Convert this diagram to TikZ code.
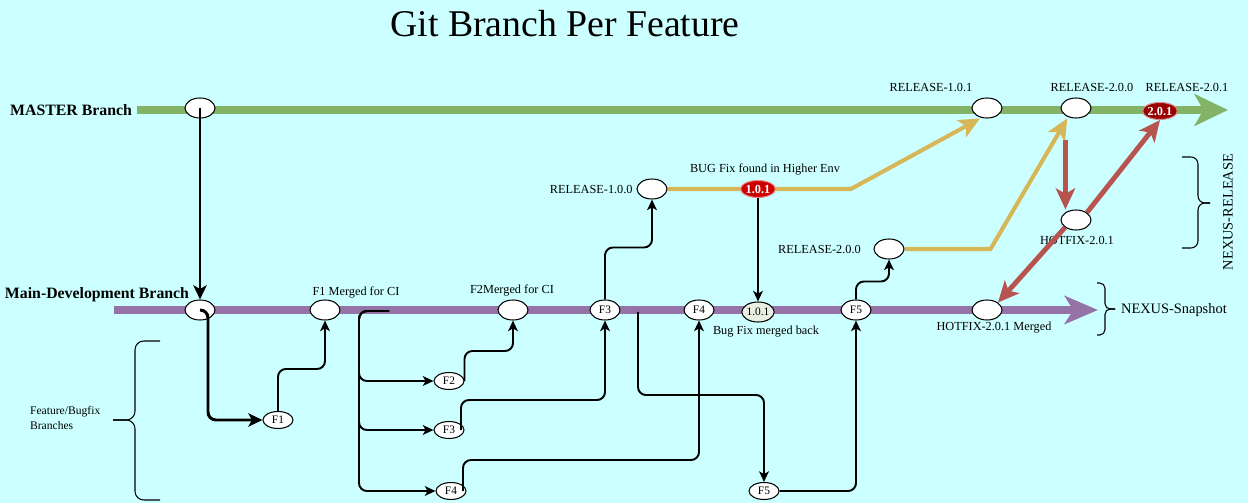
\documentclass[tikz,border=0pt]{standalone}
\usepackage{fontspec}
\setmainfont{Liberation Serif}
\usetikzlibrary{arrows.meta,positioning,shapes.geometric}
\definecolor{bgcyan}{HTML}{CCFFFF}
\definecolor{mastergreen}{HTML}{82B366}
\definecolor{devpurple}{HTML}{9673A6}
\definecolor{relyellow}{HTML}{D6B656}
\definecolor{hotred}{HTML}{B85450}
\definecolor{fixred}{HTML}{CC0000}
\definecolor{tagred}{HTML}{990000}
\definecolor{mergetint}{HTML}{E9F0E2}
\pgfdeclarelayer{back}
\pgfsetlayers{back,main}

\begin{document}
\begin{tikzpicture}[
  x=0.02cm, y=-0.02cm,
  font=\fontsize{7}{8}\selectfont,
  commit/.style={draw, ellipse, line width=0.6pt, fill=white, inner sep=0pt,
                 minimum width=0.6cm, minimum height=0.4cm, font=\fontsize{6.5}{7}\selectfont},
  feat/.style={commit, minimum height=0.34cm},
  fixtag/.style={commit, minimum height=0.34cm, fill=#1, draw=white!55!#1,
                 text=white, font=\fontsize{7}{8}\selectfont\bfseries},
  lbl/.style={inner sep=1pt},
  branch/.style={font=\fontsize{9}{10}\selectfont\bfseries, inner sep=1pt},
  nexus/.style={font=\fontsize{8.2}{9}\selectfont, inner sep=1pt},
  flow/.style={line width=1.1pt, rounded corners=4.5pt,
               -{Stealth[length=6pt,width=5.5pt,inset=1.5pt]}},
  bigflow/.style={line width=1.7pt, rounded corners=4.5pt,
                  -{Stealth[length=8pt,width=7.5pt,inset=2pt]}},
  relline/.style={line width=2.3pt, relyellow,
                  -{Stealth[length=12pt,width=11pt,inset=3pt]}},
  redarr/.style={line width=2.8pt, hotred,
                 -{Stealth[length=12pt,width=11pt,inset=3pt]}},
  curly/.style={line width=0.6pt, rounded corners=#1}
]
\useasboundingbox (0,0) rectangle (1248,503);
\begin{pgfonlayer}{back}
  \fill[bgcyan] (0,0) rectangle (1248,503);
\end{pgfonlayer}

\node (title) at (565,24) {\fontsize{21.5}{24}\selectfont Git Branch Per Feature};

% master branch
\node[commit] (m0) at (200,108) {};
\node[commit] (r101) at (987,108) {};
\node[commit] (r200) at (1076,108) {};
\node[fixtag=tagred] (r201) at (1160,111) {2.0.1};
\node[branch, anchor=east] (mlab) at (134,110) {MASTER Branch};
\node[lbl] (r101lab) at (931,87) {RELEASE-1.0.1};
\node[lbl] (r200lab) at (1092,87) {RELEASE-2.0.0};
\node[lbl] (r201lab) at (1187,87) {RELEASE-2.0.1};

% release branches
\node[commit] (r100) at (652,189) {};
\node[fixtag=fixred] (fix) at (758,189) {1.0.1};
\node[commit] (r200b) at (889,249) {};
\node[commit] (hotfix) at (1076,220) {};
\node[lbl, left=1pt of r100] (r100lab) {RELEASE-1.0.0};
\node[lbl] (fixlab) at (765,169) {BUG Fix found in Higher Env};
\node[lbl, left=6pt of r200b] (r200blab) {RELEASE-2.0.0};
\node[lbl] (hotlab) at (1077,240) {HOTFIX-2.0.1};

% development branch
\node[commit] (d0) at (200,310) {};
\node[commit] (m1) at (325,310) {};
\node[commit] (m2) at (513,310) {};
\node[commit] (d3) at (605,310) {F3};
\node[commit] (d4) at (699,310) {F4};
\node[commit, fill=mergetint] (bfm) at (758,312) {1.0.1};
\node[commit] (d5) at (856,310) {F5};
\node[commit] (hfm) at (987,310) {};
\node[branch] (dlab) at (97,295) {Main-Development Branch};
\node[lbl] (m1lab) at (356,292) {F1 Merged for CI};
\node[lbl] (m2lab) at (512,290) {F2Merged for CI};
\node[lbl] (bfmlab) at (766,332) {Bug Fix merged back};
\node[lbl] (hfmlab) at (994,328) {HOTFIX-2.0.1 Merged};

% feature branches
\node[feat] (f1) at (278,420) {F1};
\node[feat] (f2) at (449,381) {F2};
\node[feat] (f3) at (449,430) {F3};
\node[feat] (f4) at (451,491) {F4};
\node[feat] (f5) at (764,491) {F5};
\node[lbl, align=left, anchor=west, font=\fontsize{6.6}{8}\selectfont] (featlab) at (28,418) {Feature/Bugfix\\Branches};

\coordinate (mstart) at (137,110);
\coordinate (mend) at (1228,110);
\coordinate (dstart) at (114,310);
\coordinate (dend) at (1098,310);
\coordinate (split) at (389,311);
\coordinate (split5) at (638,312);

\begin{pgfonlayer}{back}
  \draw[line width=4.5pt, mastergreen, -{Stealth[length=19pt,width=18pt,inset=5pt]}] (mstart) -- (mend);
  \draw[line width=5pt, devpurple, -{Stealth[length=19pt,width=16pt,inset=5pt]}] (dstart) -- (dend);
  \draw[relline] (r100.east) -- (fix.east) -- ++(75,0) -- ([xshift=-4pt]r101.south);
  \draw[relline] (r200b.east) -- ++(86,0) -- ([xshift=-5pt]r200.south);
\end{pgfonlayer}

% hotfix
\draw[redarr] ([xshift=-6pt,yshift=-12pt]r200.south) -- ([xshift=-6pt]hotfix.north);
\draw[redarr] (hotfix.north east) -- (r201.south);
\draw[redarr] (hotfix.south west) -- (hfm.north east);

% merges
\draw[bigflow] (m0.center) -- (d0.north);
\draw[bigflow] (d0.center) -- ++(8,0) |- (f1.west);
\draw[flow] (f1.north) -- ++(0,-42) -| (m1.south);
\foreach \f in {f2,f3,f4}
  \draw[flow] (split) -- ++(-30,0) |- (\f.west);
\draw[flow] (f2.east) -- ++(0,-30) -| (m2.south);
\draw[flow] ([xshift=-2pt]f3.east) -- ++(0,-30) -| (d3.south);
\draw[flow] ([xshift=-2pt]f4.east) -- ++(0,-31) -| (d4.south);
\draw[flow] (d3.north) -- ++(0,-52) -| (r100.south);
\draw[flow] (split5) -- ++(0,83) -| (f5.north);
\draw[flow] (f5.east) -| (d5.south);
\draw[flow] (d5.north) -- ++(0,-18) -| (r200b.south);
\draw[flow] (fix.south) -- (bfm.north);

% braces
\draw[curly=5pt] (160,341) -- (135,341) -- (135,420) -- (113,420);
\draw[curly=5pt] (113,420) -- (135,420) -- (135,500) -- (160,500);
\draw[curly=4pt] (1182,157) -- (1198,157) -- (1198,203) -- (1210,203);
\draw[curly=4pt] (1210,203) -- (1198,203) -- (1198,248) -- (1182,248);
\draw[curly=3pt] (1097,283) -- (1105,283) -- (1105,309) -- (1115,309);
\draw[curly=3pt] (1115,309) -- (1105,309) -- (1105,335) -- (1097,335);
\node[nexus, rotate=90] (nrel) at (1228,212) {NEXUS-RELEASE};
\node[nexus, anchor=west] (nsnap) at (1119,310) {NEXUS-Snapshot};
\end{tikzpicture}
\end{document}
